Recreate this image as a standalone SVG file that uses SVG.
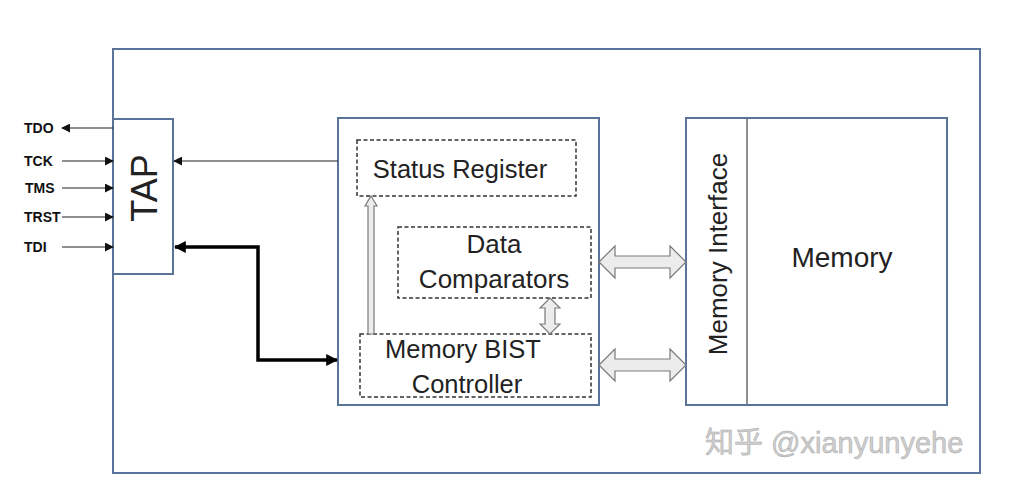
<svg xmlns="http://www.w3.org/2000/svg" width="1024" height="487" viewBox="0 0 1024 487">
<defs>
<style>
.box{fill:#fff;stroke:#5a7398;stroke-width:2}
.dash{fill:none;stroke:#333;stroke-width:1.5;stroke-dasharray:4 2.5}
.t{font-family:"Liberation Sans",Arial,sans-serif;fill:#222}
.pin{font-family:"Liberation Sans",Arial,sans-serif;font-weight:bold;font-size:14px;fill:#111}
.hollow{fill:#ececec;stroke:#7a7a7a;stroke-width:1.2}
.ln{stroke:#222;stroke-width:1.2;fill:none}
.thick{stroke:#000;stroke-width:3.5;fill:none}
</style>
<marker id="ah" viewBox="0 0 10 10" refX="9" refY="5" markerWidth="9" markerHeight="9" markerUnits="userSpaceOnUse" orient="auto">
<path d="M0,0 L10,5 L0,10 z" fill="#111"/>
</marker>
<marker id="ahT" viewBox="0 0 10 10" refX="9" refY="5" markerWidth="12" markerHeight="12" markerUnits="userSpaceOnUse" orient="auto-start-reverse">
<path d="M0,0 L10,5 L0,10 z" fill="#000"/>
</marker>
</defs>
<rect width="1024" height="487" fill="#fff"/>
<g id="outer">
<rect class="box" x="113" y="49" width="867" height="424"/>
</g>
<g id="tap">
<rect class="box" x="113" y="119" width="60" height="155"/>
<text class="t" x="144" y="188" font-size="36" text-anchor="middle" dominant-baseline="central" transform="rotate(-90 144 188)">TAP</text>
</g>
<g id="pins">
<text class="pin" x="24" y="133">TDO</text>
<text class="pin" x="24" y="166">TCK</text>
<text class="pin" x="25" y="193">TMS</text>
<text class="pin" x="24" y="222">TRST</text>
<text class="pin" x="24" y="252">TDI</text>
</g>
<g id="bist">
<rect class="box" x="338" y="118" width="261" height="287"/>
</g>
<g id="status-register">
<rect class="dash" x="357" y="140" width="219" height="56"/>
<text class="t" x="460" y="178" font-size="25.5" text-anchor="middle">Status Register</text>
</g>
<g id="data-comparators">
<rect class="dash" x="398" y="227" width="193" height="71"/>
<text class="t" x="494" y="253" font-size="26" text-anchor="middle">Data</text>
<text class="t" x="494" y="288" font-size="26" text-anchor="middle">Comparators</text>
</g>
<g id="bist-controller">
<rect class="dash" x="360" y="334" width="231" height="63"/>
<text class="t" x="463" y="358" font-size="25.5" text-anchor="middle">Memory BIST</text>
<text class="t" x="467" y="393" font-size="25.5" text-anchor="middle">Controller</text>
</g>
<g id="memory">
<rect class="box" x="686" y="118" width="261" height="287"/>
<line x1="747" y1="119" x2="747" y2="404" stroke="#444" stroke-width="1.2"/>
<text class="t" x="718" y="254" font-size="26" text-anchor="middle" dominant-baseline="central" transform="rotate(-90 718 254)">Memory Interface</text>
<text class="t" x="842" y="267" font-size="28" text-anchor="middle">Memory</text>
</g>
<g id="connectors">
<line class="ln" x1="113" y1="128" x2="62" y2="128" marker-end="url(#ah)"/>
<line class="ln" x1="62" y1="161" x2="113" y2="161" marker-end="url(#ah)"/>
<line class="ln" x1="62" y1="188" x2="113" y2="188" marker-end="url(#ah)"/>
<line class="ln" x1="62" y1="217" x2="113" y2="217" marker-end="url(#ah)"/>
<line class="ln" x1="62" y1="247" x2="113" y2="247" marker-end="url(#ah)"/>
<line class="ln" x1="338" y1="161" x2="174" y2="161" marker-end="url(#ah)"/>
<polyline class="thick" points="175,247 258,247 258,360 337,360" marker-start="url(#ahT)" marker-end="url(#ahT)"/>
<polygon class="hollow" points="371,196 377,206 374,206 374,334 368,334 368,206 365,206"/>
<polygon class="hollow" points="550,298 560,308 555,308 555,324 560,324 550,334 540,324 545,324 545,308 540,308"/>
<polygon class="hollow" points="599,262 615,246 615,256 670,256 670,246 686,262 670,278 670,268 615,268 615,278"/>
<polygon class="hollow" points="599,365 615,349 615,359 670,359 670,349 686,365 670,381 670,371 615,371 615,381"/>
</g>
<text x="705" y="453" font-family="'Liberation Sans','Noto Sans CJK SC',sans-serif" font-size="29" fill="#cfcfcf" stroke="#a8a8a8" stroke-width="0.5">知乎 @xianyunyehe</text>
</svg>
